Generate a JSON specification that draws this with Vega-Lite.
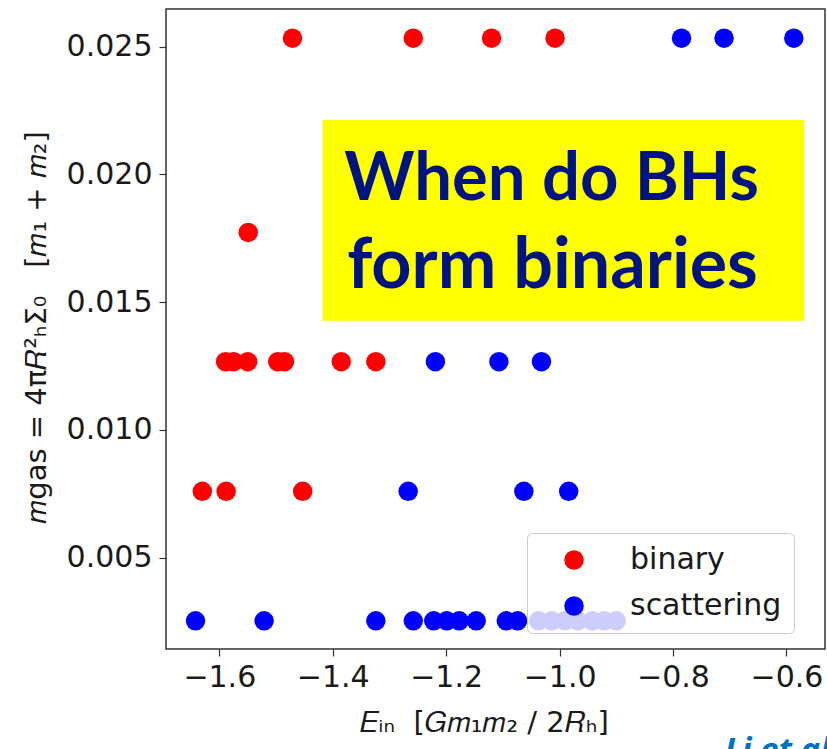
{
  "$schema": "https://vega.github.io/schema/vega-lite/v6.json",
  "width": 659,
  "height": 640,
  "autosize": {"type": "none"},
  "padding": {"left": 166, "top": 9, "right": 2, "bottom": 100},
  "background": "white",
  "config": {
    "view": {"stroke": "#333333", "strokeWidth": 1.5},
    "font": "DejaVu Sans",
    "axis": {
      "domain": false,
      "grid": false,
      "tickColor": "#333333",
      "tickSize": 7,
      "tickWidth": 1.2,
      "labelFont": "DejaVu Sans",
      "labelFontSize": 30,
      "labelColor": "#1a1a1a",
      "titleFont": "DejaVu Sans",
      "titleFontSize": 29,
      "titleFontWeight": "normal",
      "titleColor": "#1a1a1a"
    }
  },
  "layer": [
    {
      "data": {"values": [{"x1": -1.418, "x2": -0.569, "y1": 0.01427, "y2": 0.02213}]},
      "mark": {"type": "rect", "color": "#ffff00"},
      "encoding": {
        "x": {"field": "x1", "type": "quantitative"},
        "x2": {"field": "x2"},
        "y": {"field": "y1", "type": "quantitative"},
        "y2": {"field": "y2"}
      }
    },
    {
      "data": {"values": [{"label": "When do BHs", "tx": -1.3795, "ty": 0.0190}]},
      "mark": {"type": "text", "font": "Lato", "fontWeight": "bold", "fontSize": 67, "color": "#001480", "align": "left", "baseline": "alphabetic"},
      "encoding": {
        "x": {"field": "tx", "type": "quantitative"},
        "y": {"field": "ty", "type": "quantitative"},
        "text": {"field": "label"}
      }
    },
    {
      "data": {"values": [{"label": "form binaries", "tx": -1.3745, "ty": 0.01556}]},
      "mark": {"type": "text", "font": "Lato", "fontWeight": "bold", "fontSize": 70, "color": "#001480", "align": "left", "baseline": "alphabetic"},
      "encoding": {
        "x": {"field": "tx", "type": "quantitative"},
        "y": {"field": "ty", "type": "quantitative"},
        "text": {"field": "label"}
      }
    },
    {
      "data": {"values": [
        {"E": -1.471, "m": 0.02533, "outcome": "binary"},
        {"E": -1.258, "m": 0.02533, "outcome": "binary"},
        {"E": -1.120, "m": 0.02533, "outcome": "binary"},
        {"E": -1.008, "m": 0.02533, "outcome": "binary"},
        {"E": -0.785, "m": 0.02533, "outcome": "scattering"},
        {"E": -0.710, "m": 0.02533, "outcome": "scattering"},
        {"E": -0.587, "m": 0.02533, "outcome": "scattering"},
        {"E": -1.549, "m": 0.01773, "outcome": "binary"},
        {"E": -1.589, "m": 0.01267, "outcome": "binary"},
        {"E": -1.575, "m": 0.01267, "outcome": "binary"},
        {"E": -1.550, "m": 0.01267, "outcome": "binary"},
        {"E": -1.497, "m": 0.01267, "outcome": "binary"},
        {"E": -1.485, "m": 0.01267, "outcome": "binary"},
        {"E": -1.385, "m": 0.01267, "outcome": "binary"},
        {"E": -1.324, "m": 0.01267, "outcome": "binary"},
        {"E": -1.219, "m": 0.01267, "outcome": "scattering"},
        {"E": -1.107, "m": 0.01267, "outcome": "scattering"},
        {"E": -1.032, "m": 0.01267, "outcome": "scattering"},
        {"E": -1.630, "m": 0.0076, "outcome": "binary"},
        {"E": -1.588, "m": 0.0076, "outcome": "binary"},
        {"E": -1.453, "m": 0.0076, "outcome": "binary"},
        {"E": -1.267, "m": 0.0076, "outcome": "scattering"},
        {"E": -1.063, "m": 0.0076, "outcome": "scattering"},
        {"E": -0.984, "m": 0.0076, "outcome": "scattering"},
        {"E": -1.642, "m": 0.002533, "outcome": "scattering"},
        {"E": -1.521, "m": 0.002533, "outcome": "scattering"},
        {"E": -1.324, "m": 0.002533, "outcome": "scattering"},
        {"E": -1.258, "m": 0.002533, "outcome": "scattering"},
        {"E": -1.222, "m": 0.002533, "outcome": "scattering"},
        {"E": -1.199, "m": 0.002533, "outcome": "scattering"},
        {"E": -1.177, "m": 0.002533, "outcome": "scattering"},
        {"E": -1.147, "m": 0.002533, "outcome": "scattering"},
        {"E": -1.094, "m": 0.002533, "outcome": "scattering"},
        {"E": -1.074, "m": 0.002533, "outcome": "scattering"},
        {"E": -1.037, "m": 0.002533, "outcome": "scattering"},
        {"E": -1.014, "m": 0.002533, "outcome": "scattering"},
        {"E": -0.991, "m": 0.002533, "outcome": "scattering"},
        {"E": -0.968, "m": 0.002533, "outcome": "scattering"},
        {"E": -0.942, "m": 0.002533, "outcome": "scattering"},
        {"E": -0.921, "m": 0.002533, "outcome": "scattering"},
        {"E": -0.900, "m": 0.002533, "outcome": "scattering"}
      ]},
      "mark": {"type": "circle", "size": 380, "opacity": 1},
      "encoding": {
        "x": {
          "field": "E", "type": "quantitative",
          "scale": {"domain": [-1.694, -0.532], "nice": false, "zero": false},
          "axis": {
            "values": [-1.6, -1.4, -1.2, -1.0, -0.8, -0.6],
            "format": ".1f",
            "labelPadding": 6,
            "title": "𝐸ᵢₙ\u00a0\u00a0[𝐺𝑚₁𝑚₂ / 2𝑅ₕ]",
            "titleX": 318,
            "titleY": 73,
            "titleAlign": "center",
            "titleBaseline": "middle"
          }
        },
        "y": {
          "field": "m", "type": "quantitative",
          "scale": {"domain": [0.00143, 0.02647], "nice": false, "zero": false},
          "axis": {
            "values": [0.005, 0.010, 0.015, 0.020, 0.025],
            "format": ".3f",
            "labelPadding": 7,
            "title": "𝑚gas = 4π𝑅²ₕΣ₀\u00a0\u00a0\u00a0[𝑚₁ + 𝑚₂]",
            "titleX": -130,
            "titleY": 318,
            "titleAngle": -90,
            "titleAlign": "center",
            "titleBaseline": "middle"
          }
        },
        "color": {
          "field": "outcome", "type": "nominal",
          "scale": {"domain": ["binary", "scattering"], "range": ["#ff0000", "#0000ff"]},
          "legend": {
            "title": null,
            "orient": "none",
            "legendX": 361,
            "legendY": 524,
            "fillColor": "rgba(255,255,255,0.8)",
            "strokeColor": "#cccccc",
            "cornerRadius": 5,
            "padding": 12,
            "symbolType": "circle",
            "symbolSize": 380,
            "symbolOffset": 20,
            "symbolStrokeWidth": 0,
            "labelFont": "DejaVu Sans",
            "labelFontSize": 30,
            "labelColor": "#1a1a1a",
            "labelOffset": 41,
            "labelExpr": "datum.label + '\u00a0\u00a0\u00a0'",
            "rowPadding": 16
          }
        }
      }
    },
    {
      "data": {"values": [{"note": "Li et al.", "nx": -0.709, "ny": -0.00295}]},
      "mark": {"type": "text", "font": "Open Sans", "fontWeight": "bold", "fontStyle": "italic", "fontSize": 33, "color": "#0070c0", "align": "left", "baseline": "alphabetic", "clip": false},
      "encoding": {
        "x": {"field": "nx", "type": "quantitative"},
        "y": {"field": "ny", "type": "quantitative"},
        "text": {"field": "note"}
      }
    }
  ]
}
